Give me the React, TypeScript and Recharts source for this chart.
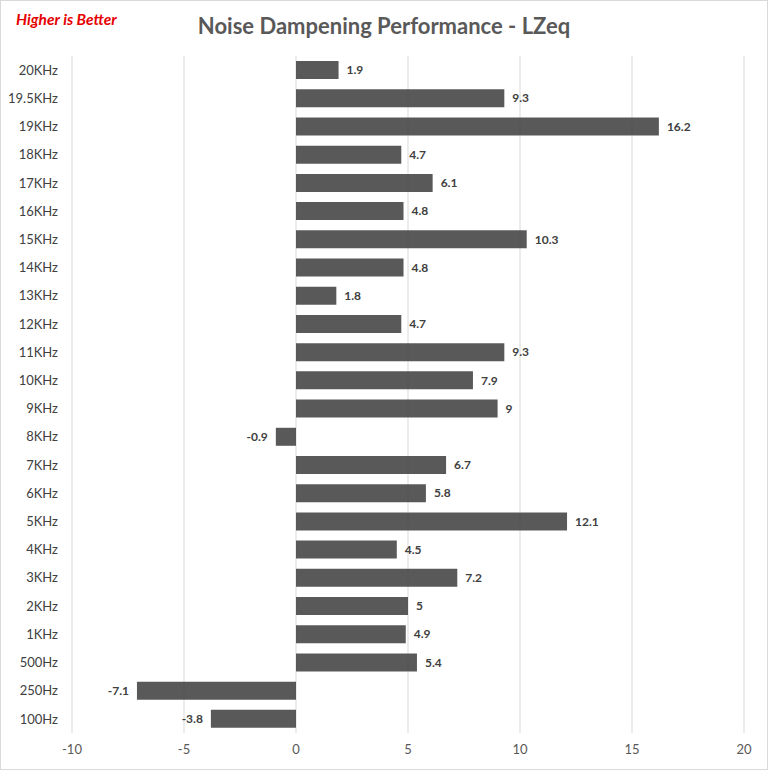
import React from "react";
import { BarChart, Bar, XAxis, YAxis, CartesianGrid, LabelList } from "recharts";

const bands = [
  "20KHz", "19.5KHz", "19KHz", "18KHz", "17KHz", "16KHz", "15KHz", "14KHz",
  "13KHz", "12KHz", "11KHz", "10KHz", "9KHz", "8KHz", "7KHz", "6KHz",
  "5KHz", "4KHz", "3KHz", "2KHz", "1KHz", "500Hz", "250Hz", "100Hz",
];
const dampening = [
  1.9, 9.3, 16.2, 4.7, 6.1, 4.8, 10.3, 4.8,
  1.8, 4.7, 9.3, 7.9, 9, -0.9, 6.7, 5.8,
  12.1, 4.5, 7.2, 5, 4.9, 5.4, -7.1, -3.8,
];
const xTicks = [-10, -5, 0, 5, 10, 15, 20];

const data = bands.map((band, i) => ({ band, value: dampening[i] }));

const FONT = "Lato, 'Open Sans', sans-serif";

function ValueLabel(props: any) {
  const { x, y, width, height, value } = props;
  const left = Math.min(x, x + width);
  const right = Math.max(x, x + width);
  const neg = value < 0;
  return (
    <text
      x={neg ? left - 8 : right + 8}
      y={y + height / 2}
      dy="0.35em"
      textAnchor={neg ? "end" : "start"}
      fontSize={12}
      fontWeight={700}
      fill="#404040"
      fontFamily={FONT}
    >
      {value}
    </text>
  );
}

export default function App() {
  return (
    <div style={{ position: "absolute", left: 0, top: 0, width: 768, height: 770, background: "#fff", fontFamily: FONT }}>
      <div style={{ position: "absolute", left: 16, top: 10, color: "#e60000", fontSize: 15.5, fontWeight: 700, fontStyle: "italic" }}>
        Higher is Better
      </div>
      <div style={{ position: "absolute", left: 0, width: 768, top: 12, textAlign: "center", color: "#595959", fontSize: 22, fontWeight: 700 }}>
        Noise Dampening Performance - LZeq
      </div>
      <BarChart
        width={768}
        height={770}
        data={data}
        layout="vertical"
        margin={{ top: 56, right: 24, bottom: 7, left: 0 }}
        barCategoryGap="18%"
      >
        <CartesianGrid horizontal={false} stroke="#d9d9d9" />
        <XAxis
          type="number"
          domain={[-10, 20]}
          ticks={xTicks}
          axisLine={false}
          tickLine={false}
          tickMargin={6}
          height={30}
          tick={{ fontSize: 13, fill: "#595959", fontFamily: FONT }}
        />
        <YAxis
          type="category"
          dataKey="band"
          width={72}
          axisLine={false}
          tickLine={false}
          tickMargin={8}
          interval={0}
          tick={{ fontSize: 13, fill: "#404040", fontFamily: FONT }}
        />
        <Bar dataKey="value" fill="#404040" fillOpacity={0.87} isAnimationActive={false}>
          <LabelList dataKey="value" content={<ValueLabel />} />
        </Bar>
      </BarChart>
      <div style={{ position: "absolute", inset: 0, border: "1px solid #d9d9d9", pointerEvents: "none" }} />
    </div>
  );
}
